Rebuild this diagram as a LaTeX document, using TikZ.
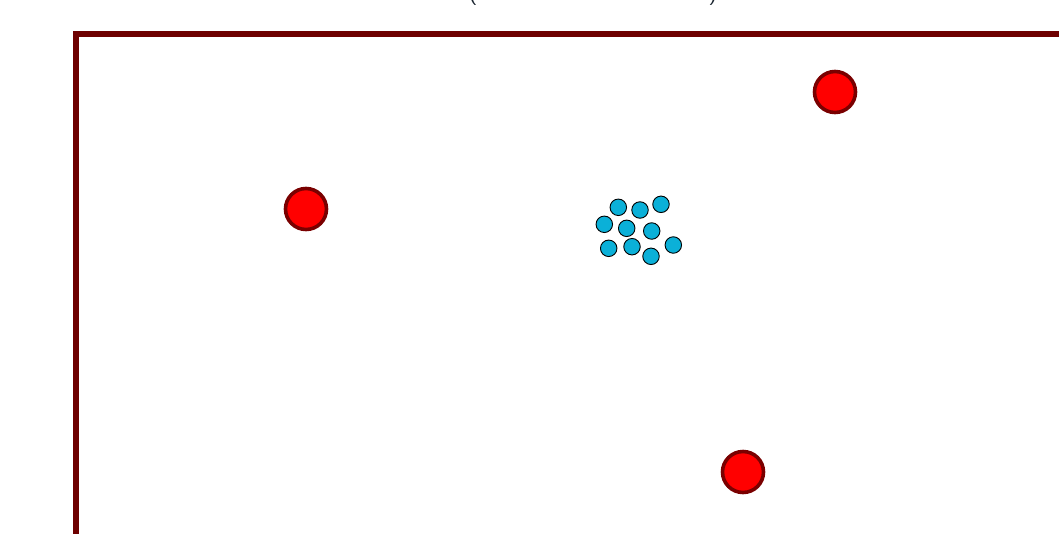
\documentclass[tikz,border=0pt]{standalone}
\begin{document}
\begin{tikzpicture}[x=1pt,y=-1pt,
  frame/.style={draw=framered,line width=6pt},
  bigdot/.style={circle,draw=dotborder,fill=red,line width=3.6pt,minimum size=41pt,inner sep=0pt},
  smalldot/.style={circle,draw=black,fill=dotblue,line width=0.9pt,minimum size=16.5pt,inner sep=0pt},
  paren/.style={inner sep=0pt,anchor=south,text=parencol,font=\fontsize{24}{28}\selectfont\sffamily}]
\definecolor{framered}{HTML}{6E0000}
\definecolor{dotborder}{HTML}{7A0000}
\definecolor{dotblue}{HTML}{0BB0D8}
\definecolor{parencol}{HTML}{1A2530}
\useasboundingbox (0,0) rectangle (1059,533);
\fill[white] (0,0) rectangle (1059,533);
\draw[frame] (76,545) -- (76,34) -- (1070,34);
\node[paren] (lp) at (473,5.5) {(};
\node[paren] (rp) at (713,5.5) {)};
\node[bigdot] (r1) at (306,209) {};
\node[bigdot] (r2) at (835,92) {};
\node[bigdot] (r3) at (743,472) {};
\node[smalldot] (b1) at (618.3,207.3) {};
\node[smalldot] (b2) at (640,210) {};
\node[smalldot] (b3) at (661,204.3) {};
\node[smalldot] (b4) at (604.3,224.3) {};
\node[smalldot] (b5) at (626.7,228.3) {};
\node[smalldot] (b6) at (651.7,231) {};
\node[smalldot] (b7) at (608.7,248.3) {};
\node[smalldot] (b8) at (632,246.7) {};
\node[smalldot] (b9) at (651,256.3) {};
\node[smalldot] (b10) at (673.3,245) {};
\end{tikzpicture}
\end{document}
